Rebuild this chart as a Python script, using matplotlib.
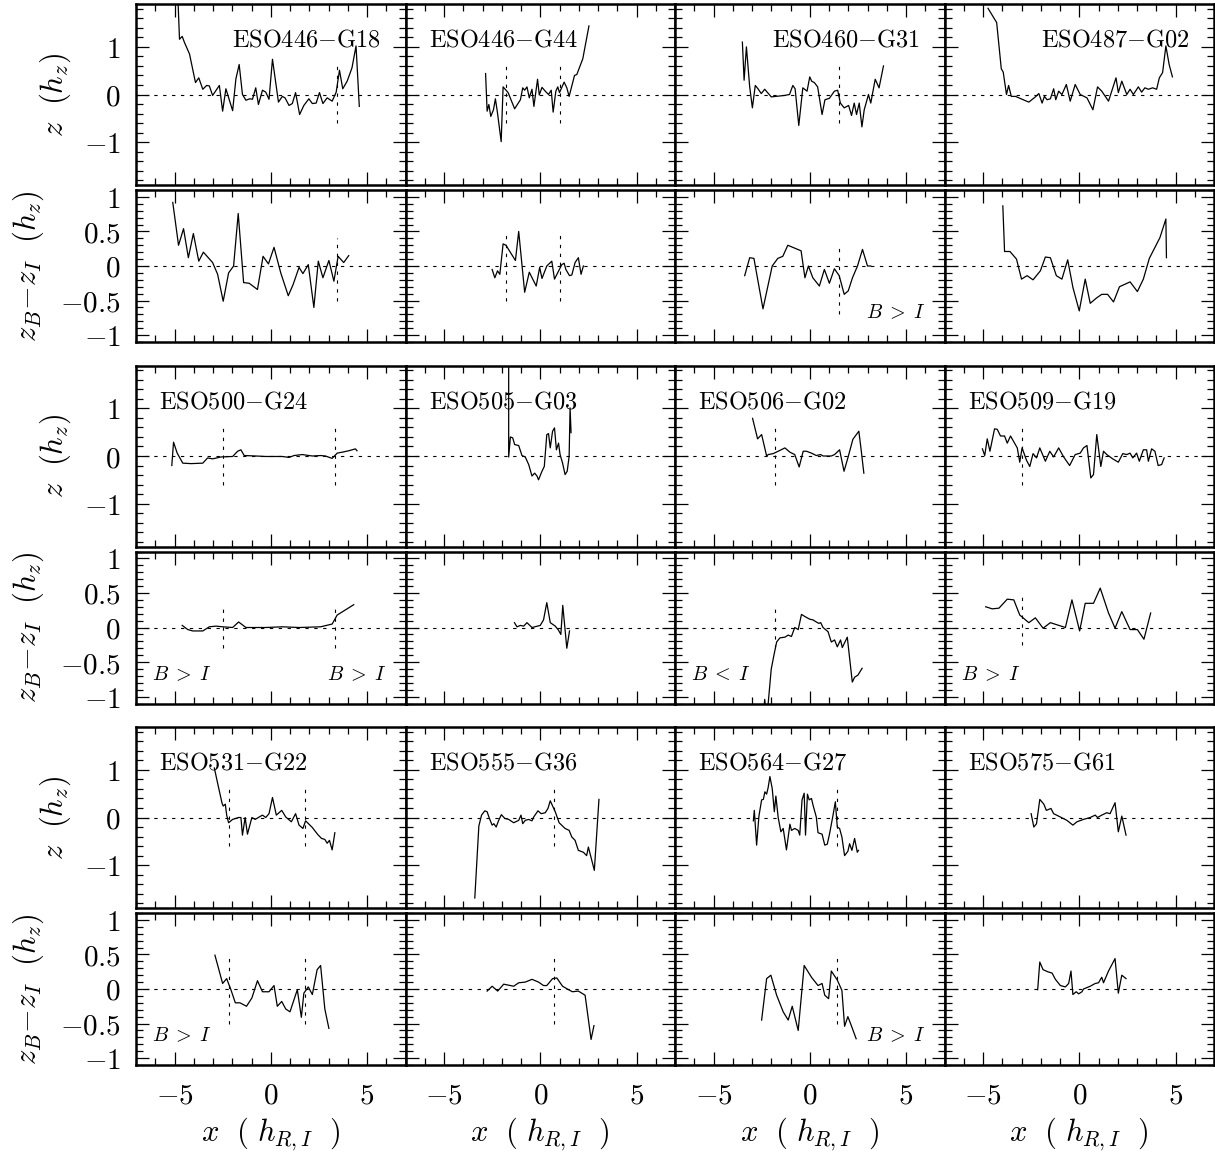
#!/usr/bin/env python3
"""Vertical profiles z(x) and colour offsets z_B - z_I for 12 edge-on galaxies."""

import matplotlib
matplotlib.use('Agg')
import matplotlib.pyplot as plt
from matplotlib.ticker import MultipleLocator

plt.rcParams['mathtext.fontset'] = 'cm'
plt.rcParams['font.family'] = 'serif'
plt.rcParams['font.serif'] = ['DejaVu Serif']

# ── DATA ──────────────────────────────────────────────────────────────────
NAMES = ['ESO446-G18', 'ESO446-G44', 'ESO460-G31', 'ESO487-G02',
         'ESO500-G24', 'ESO505-G03', 'ESO506-G02', 'ESO509-G19',
         'ESO531-G22', 'ESO555-G36', 'ESO564-G27', 'ESO575-G61']
NAME_SIDE = ['right', 'left', 'right', 'right'] + ['left'] * 8

XTICKS = [-5, 0, 5]
XTICK_LABELS = ['$-5$', '$0$', '$5$']
ZTICKS = [-1, 0, 1]
ZTICK_LABELS = ['$-1$', '$0$', '$1$']
DTICKS = [-1, -0.5, 0, 0.5, 1]
DTICK_LABELS = ['$-1$', '$-0.5$', '$0$', '$0.5$', '$1$']

# ESO446-G18
G18_X = [-4.85, -4.74, -4.6, -4.48, -4.22, -3.91, -3.74, -3.53, -3.33, -3.19, -3.02, -2.67, -2.5,
         -2.33, -1.98, -1.81, -1.64, -1.47, -1.29, -1.09, -0.95, -0.78, -0.64, -0.43, -0.26, -0.09,
         0.09, 0.4, 0.6, 0.74, 0.95, 1.12, 1.29, 1.5, 1.72, 1.98, 2.16, 2.36, 2.53, 2.71, 2.93, 3.19,
         3.4, 3.57, 3.74, 3.97, 4.22, 4.43, 4.6]
G18_Z = [2.3, 1.16, 1.22, 1.09, 0.85, 0.25, 0.35, 0.11, 0.19, 0.18, -0.02, 0.19, -0.35, 0.12,
         -0.34, 0.33, 0.63, 0.0, -0.12, -0.09, -0.1, 0.14, -0.21, 0.09, 0.05, -0.1, 0.74, -0.16,
         -0.04, -0.07, -0.23, -0.19, 0.04, -0.42, -0.23, -0.09, -0.19, -0.18, 0.04, -0.19, -0.07,
         -0.14, 0.05, 0.51, 0.12, 0.28, 0.56, 1.02, -0.25]
G18_DX = [-5.09, -4.79, -4.53, -4.28, -4.02, -3.74, -3.5, -3.02, -2.76, -2.47, -2.19, -1.93, -1.69,
          -1.41, -1.12, -0.69, -0.4, -0.12, 0.17, 0.52, 0.91, 1.16, 1.47, 1.67, 1.95, 2.24, 2.47,
          2.71, 3.02, 3.28, 3.5, 3.79, 4.05]
G18_DZ = [0.92, 0.30, 0.54, 0.12, 0.47, 0.07, 0.2, 0.05, -0.12, -0.51, -0.1, 0.0, 0.76, -0.24,
          -0.25, -0.34, 0.14, 0.03, 0.27, -0.1, -0.43, -0.27, -0.02, -0.11, 0.02, -0.6, 0.07,
          -0.17, 0.08, -0.22, 0.14, 0.05, 0.15]

# ESO446-G44
G44_X = [-2.84, -2.76, -2.67, -2.57, -2.43, -2.33, -2.22, -2.03, -1.93, -1.67, -1.33, -1.03, -0.91,
         -0.81, -0.69, -0.57, -0.43, -0.33, -0.14, -0.05, 0.09, 0.26, 0.43, 0.57, 0.67, 0.81, 0.91,
         1.0, 1.24, 1.38, 1.5, 1.64, 1.78, 1.9, 2.21, 2.53]
G44_Z = [0.44, -0.35, -0.21, -0.46, -0.32, -0.09, -0.39, -0.99, 0.16, 0.04, -0.3, -0.11, 0.14,
         0.09, 0.16, -0.07, 0.11, -0.25, 0.32, -0.01, 0.15, 0.07, 0.0, 0.09, -0.37, 0.07, 0.16,
         0.04, 0.26, 0.14, -0.04, 0.18, 0.4, 0.42, 0.75, 1.44]
G44_DX = [-2.5, -2.36, -2.22, -2.1, -1.93, -1.78, -1.29, -1.12, -0.81, -0.57, -0.21, -0.03, 0.09,
          0.34, 0.6, 0.74, 1.12, 1.24, 1.33, 1.52, 1.64, 1.81, 1.98, 2.12, 2.24]
G44_DZ = [-0.05, -0.17, -0.07, -0.12, 0.32, 0.3, 0.08, 0.5, -0.38, -0.09, -0.29, -0.02, -0.18,
          0.0, 0.07, -0.19, 0.02, 0.04, -0.05, -0.14, -0.13, 0.05, 0.12, -0.12, 0.0]

# ESO460-G31
G31_X = [-3.5, -3.41, -3.29, -3.12, -2.98, -2.83, -2.69, -2.52, -2.34, -2.0, -1.31, -1.05, -0.88,
         -0.76, -0.57, -0.36, -0.14, 0.0, 0.1, 0.24, 0.41, 0.64, 0.79, 1.02, 1.28, 1.45, 1.59,
         1.79, 2.02, 2.17, 2.31, 2.43, 2.57, 2.71, 2.83, 3.05, 3.17, 3.4, 3.6, 3.83]
G31_Z = [1.1, 0.3, 1.0, 0.16, -0.28, 0.19, 0.12, 0.02, 0.11, -0.05, -0.02, 0.0, 0.19, 0.12, -0.65,
         0.14, 0.07, 0.37, 0.28, 0.25, 0.16, -0.42, -0.11, -0.08, 0.07, 0.09, -0.18, -0.28, -0.23,
         -0.44, -0.18, -0.42, -0.18, -0.68, -0.32, 0.0, -0.18, 0.32, 0.14, 0.6]
G31_DX = [-3.38, -3.12, -2.9, -2.43, -1.95, -1.66, -1.4, -1.14, -0.45, -0.25, -0.07, 0.16, 0.5,
          0.76, 1.02, 1.28, 1.53, 1.79, 2.0, 2.22, 2.48, 2.74, 3.0, 3.17]
G31_DZ = [-0.14, 0.12, 0.11, -0.62, 0.0, 0.11, 0.14, 0.3, 0.22, -0.17, 0.0, -0.17, -0.29, -0.05,
          -0.25, -0.04, -0.14, -0.41, -0.36, -0.17, 0.0, 0.24, 0.0, 0.0]

# ESO487-G02
G02A_X = [-4.74, -4.29, -4.05, -3.95, -3.78, -3.67, -3.53, -3.31, -3.14, -2.62, -2.28, -2.1, -1.93,
          -1.81, -1.67, -1.5, -1.33, -1.22, -1.07, -0.9, -0.67, -0.47, -0.21, 0.05, 0.4, 0.71,
          0.95, 1.17, 1.52, 1.91, 2.03, 2.21, 2.47, 2.64, 2.81, 3.07, 3.24, 3.41, 3.59, 3.81, 4.02,
          4.16, 4.33, 4.5, 4.67, 4.84]
G02A_Z = [1.81, 1.51, 0.54, 0.47, 0.0, 0.19, -0.04, -0.04, -0.07, -0.16, -0.05, 0.02, -0.18,
          -0.04, -0.11, -0.09, 0.12, -0.11, 0.07, 0.0, 0.21, -0.14, 0.21, 0.0, -0.07, -0.32, 0.16,
          0.07, -0.14, 0.35, 0.04, 0.28, 0.0, 0.11, 0.0, 0.16, 0.05, 0.14, 0.11, 0.14, 0.11, 0.35,
          0.46, 1.02, 0.63, 0.37]
G02A_DX = [-3.97, -3.88, -3.6, -3.26, -3.0, -2.71, -2.4, -2.02, -1.76, -1.5, -1.19, -0.9, -0.6,
           -0.33, 0.0, 0.31, 0.57, 0.91, 1.17, 1.47, 1.78, 2.09, 2.64, 3.02, 3.33, 3.64, 4.19,
           4.5, 4.53]
G02A_DZ = [0.87, 0.21, 0.21, 0.1, -0.19, -0.14, -0.2, -0.07, 0.13, 0.12, -0.14, -0.19, 0.09,
           -0.31, -0.65, -0.19, -0.54, -0.46, -0.41, -0.41, -0.52, -0.3, -0.23, -0.37, -0.19,
           0.11, 0.41, 0.68, 0.12]

# ESO500-G24
G24_X = [-5.14, -5.05, -4.86, -4.57, -4.14, -3.53, -3.28, -3.02, -2.59, -1.98, -1.72, -1.55, -1.38,
         -0.78, -0.26, 0.6, 0.95, 1.21, 1.64, 2.16, 2.59, 2.84, 3.19, 3.45, 3.71, 4.05, 4.4, 4.48]
G24_Z = [-0.2, 0.29, 0.06, -0.15, -0.16, -0.15, -0.04, -0.06, -0.02, -0.01, 0.1, 0.13, 0.01, 0.0,
         -0.01, -0.01, -0.03, 0.01, 0.03, 0.0, 0.01, 0.0, -0.05, 0.06, 0.08, 0.11, 0.15, 0.11]
G24_DX = [-4.6, -4.31, -4.05, -3.53, -3.19, -2.84, -2.5, -1.98, -1.67, -1.29, -0.26, 0.6, 1.47,
          2.59, 3.19, 3.45, 4.31]
G24_DZ = [0.03, -0.03, -0.05, -0.05, 0.01, 0.02, 0.01, 0.0, 0.08, 0.0, 0.0, 0.01, 0.0, 0.01, 0.05,
          0.18, 0.33]

# ESO505-G03
G03_X = [-1.64, -1.64, -1.55, -1.43, -1.33, -1.12, -0.95, -0.78, -0.6, -0.43, -0.29, -0.17, -0.09,
         0.09, 0.21, 0.34, 0.43, 0.52, 0.64, 0.74, 0.84, 0.95, 1.03, 1.16, 1.29, 1.4, 1.5, 1.55, 1.6]
G03_Z = [2.5, -0.02, 0.4, 0.38, 0.24, 0.22, 0.01, -0.02, -0.18, -0.42, -0.36, -0.42, -0.5, -0.32,
         -0.22, 0.45, 0.47, 0.17, 0.52, 0.59, 0.13, 0.27, 0.03, -0.15, -0.39, -0.32, -0.01, 1.01,
         0.49]
G03_DX = [-1.34, -1.21, -1.03, -0.86, -0.69, -0.43, 0.0, 0.17, 0.34, 0.52, 0.78, 0.95, 1.07, 1.17,
          1.38, 1.52]
G03_DZ = [0.07, 0.01, 0.03, 0.02, 0.07, 0.0, 0.03, 0.11, 0.36, 0.07, 0.02, -0.04, -0.1, 0.32,
          -0.3, -0.05]

# ESO506-G02
G02B_X = [-2.97, -2.71, -2.5, -2.24, -2.16, -1.9, -1.64, -1.29, -1.03, -0.78, -0.55, -0.34, -0.17,
          0.09, 0.34, 0.57, 0.69, 0.95, 1.12, 1.29, 1.55, 1.78, 1.98, 2.24, 2.55, 2.67, 2.81]
G02B_Z = [0.79, 0.36, 0.45, 0.0, 0.03, 0.05, 0.1, 0.17, 0.08, 0.03, -0.23, 0.1, 0.1, 0.06, 0.01,
          0.03, 0.0, 0.0, 0.0, 0.03, 0.13, -0.32, -0.04, 0.35, 0.52, 0.13, -0.36]
G02B_DX = [-2.42, -2.34, -2.26, -2.16, -2.0, -1.86, -1.72, -1.55, -1.29, -1.12, -0.95, -0.78, -0.6,
           -0.43, -0.26, 0.0, 0.17, 0.34, 0.47, 0.57, 0.69, 0.95, 1.12, 1.29, 1.43, 1.6, 1.69,
           1.95, 2.21, 2.33, 2.5, 2.72]
G02B_DZ = [-1.3, -1.04, -1.25, -1.1, -0.6, -0.4, -0.21, -0.15, -0.14, -0.11, -0.13, 0.0, -0.03,
           0.19, 0.16, 0.12, 0.11, 0.08, 0.06, 0.07, 0.0, -0.06, -0.21, -0.18, -0.28, -0.18,
           -0.29, -0.14, -0.79, -0.72, -0.69, -0.59]

# ESO509-G19
G19_X = [-5.03, -4.91, -4.78, -4.64, -4.4, -4.26, -4.09, -3.88, -3.74, -3.57, -3.22, -3.09, -2.97,
         -2.74, -2.57, -2.4, -2.22, -2.05, -1.76, -1.53, -1.33, -1.07, -0.81, -0.5, -0.21, 0.05,
         0.22, 0.4, 0.6, 0.74, 0.91, 1.12, 1.26, 1.43, 1.74, 2.03, 2.26, 2.47, 2.64, 2.78, 2.98,
         3.12, 3.33, 3.5, 3.59, 3.76, 3.93, 4.1, 4.28, 4.41]
G19_Z = [0.15, 0.01, 0.36, 0.1, 0.57, 0.56, 0.42, 0.42, 0.27, 0.42, 0.17, -0.13, 0.17, -0.09,
         -0.22, 0.05, -0.04, 0.17, -0.11, 0.1, -0.02, 0.17, -0.02, -0.2, 0.03, 0.06, 0.17, 0.22,
         -0.46, -0.39, 0.45, -0.22, 0.1, 0.03, -0.06, -0.13, 0.05, 0.03, 0.06, -0.04, 0.06, -0.11,
         0.13, 0.13, -0.11, 0.15, 0.1, -0.2, -0.18, -0.04]
G19_DX = [-4.86, -4.52, -4.17, -3.74, -3.4, -3.09, -2.62, -2.28, -1.88, -1.5, -0.72, -0.38, 0.02,
          0.31, 0.74, 1.09, 1.52, 1.86, 2.21, 2.64, 3.02, 3.36, 3.71]
G19_DZ = [0.3, 0.27, 0.28, 0.41, 0.4, 0.18, 0.07, 0.14, -0.01, 0.07, 0.0, 0.4, -0.05, 0.35, 0.35,
          0.57, 0.21, -0.01, 0.23, -0.03, -0.03, -0.17, 0.21]

# ESO531-G22
G22_X = [-2.93, -2.76, -2.53, -2.47, -2.36, -2.29, -2.19, -1.98, -1.67, -1.55, -1.47, -1.33, -1.21,
         -0.98, -0.81, -0.6, -0.43, -0.26, -0.09, 0.09, 0.29, 0.57, 0.78, 1.07, 1.29, 1.47, 1.67,
         1.81, 2.16, 2.33, 2.47, 2.64, 2.81, 2.93, 3.05, 3.19, 3.33]
G22_Z = [1.04, 0.72, 0.3, 0.24, 0.28, 0.05, -0.11, -0.04, 0.0, 0.0, -0.37, 0.0, -0.35, 0.0, -0.04,
         0.01, 0.05, 0.0, 0.08, 0.42, 0.05, 0.15, 0.01, -0.09, 0.08, -0.16, -0.23, -0.07, -0.21,
         -0.3, -0.37, -0.44, -0.46, -0.54, -0.48, -0.68, -0.32]
G22_DX = [-2.9, -2.5, -2.29, -2.07, -1.84, -1.6, -1.26, -0.98, -0.69, -0.43, -0.09, 0.17, 0.34,
          0.57, 0.78, 1.0, 1.38, 1.59, 1.72, 1.95, 2.16, 2.41, 2.59, 2.81, 3.02]
G22_DZ = [0.49, 0.08, 0.15, -0.01, -0.2, -0.2, -0.25, -0.13, 0.12, -0.04, -0.04, 0.05, -0.25,
          -0.18, -0.29, -0.33, -0.01, -0.41, -0.06, 0.03, -0.08, 0.28, 0.34, -0.29, -0.57]

# ESO555-G36
G36_X = [-3.4, -3.19, -3.05, -2.88, -2.76, -2.64, -2.5, -2.41, -2.29, -2.16, -2.02, -1.84, -1.64,
         -1.38, -1.12, -1.0, -0.91, -0.78, -0.6, -0.43, -0.34, -0.12, 0.05, 0.26, 0.4, 0.52, 0.78,
         0.98, 1.29, 1.5, 1.64, 1.81, 1.98, 2.24, 2.41, 2.5, 2.81, 3.05]
G36_Z = [-1.69, -0.18, 0.05, 0.14, 0.12, -0.02, -0.16, -0.13, -0.2, -0.06, 0.06, -0.02, -0.04,
         -0.11, -0.06, 0.05, -0.13, -0.06, -0.04, -0.07, 0.01, 0.14, 0.08, 0.1, 0.19, 0.35, 0.12,
         -0.11, -0.23, -0.27, -0.41, -0.48, -0.69, -0.73, -0.8, -0.62, -1.11, 0.38]
G36_DX = [-2.76, -2.5, -2.21, -1.9, -1.38, -1.12, -0.78, -0.43, -0.09, 0.17, 0.34, 0.64, 0.86, 1.16,
          1.47, 1.67, 1.98, 2.33, 2.64, 2.79]
G36_DZ = [-0.03, 0.04, -0.03, 0.07, 0.04, 0.09, 0.1, 0.14, 0.1, 0.05, 0.05, 0.15, 0.16, 0.04,
          -0.01, -0.04, -0.03, -0.09, -0.73, -0.53]

# ESO564-G27
G27_X = [-2.93, -2.88, -2.76, -2.64, -2.5, -2.41, -2.33, -2.24, -2.16, -2.07, -1.95, -1.84, -1.76,
         -1.64, -1.5, -1.38, -1.21, -1.03, -0.95, -0.78, -0.6, -0.52, -0.4, -0.29, -0.22, -0.12,
         -0.03, 0.09, 0.17, 0.34, 0.43, 0.64, 0.78, 0.91, 1.03, 1.21, 1.33, 1.43, 1.55, 1.67, 1.81,
         1.98, 2.07, 2.19, 2.33, 2.47, 2.53]
G27_Z = [-0.07, 0.15, -0.58, 0.03, 0.37, 0.38, 0.54, 0.49, 0.63, 0.86, 0.61, 0.12, 0.45, 0.0, -0.3,
         -0.23, -0.68, -0.14, -0.27, -0.23, -0.27, -0.37, 0.37, 0.51, -0.37, 0.49, 0.37, 0.4, 0.26,
         0.01, -0.32, -0.35, -0.58, -0.56, -0.34, 0.05, 0.33, -0.2, -0.23, -0.41, -0.8, -0.71,
         -0.55, -0.69, -0.44, -0.73, -0.69]
G27_DX = [-2.5, -2.24, -2.02, -1.72, -1.38, -1.12, -0.91, -0.6, -0.29, 0.09, 0.43, 0.64, 0.78,
          0.98, 1.12, 1.43, 1.67, 1.81, 1.98, 2.16, 2.41]
G27_DZ = [-0.45, 0.15, 0.2, -0.09, -0.33, -0.45, -0.25, -0.6, 0.34, 0.17, 0.05, 0.08, -0.09,
          -0.14, 0.26, 0.13, -0.02, -0.54, -0.4, -0.53, -0.72]

# ESO575-G61
G61_X = [-2.5, -2.36, -2.22, -2.05, -1.84, -1.71, -1.47, -1.33, -0.98, -0.64, -0.33, -0.12, 0.22,
         0.57, 0.83, 0.95, 1.17, 1.43, 1.6, 1.86, 2.03, 2.21, 2.43]
G61_Z = [0.08, -0.2, -0.13, 0.38, 0.28, 0.15, 0.19, 0.08, 0.01, -0.06, -0.16, -0.09, -0.04, 0.0,
         0.05, 0.0, 0.05, 0.1, 0.08, 0.31, -0.3, 0.03, -0.37]
G61_DX = [-2.16, -2.05, -1.88, -1.64, -1.41, -1.24, -0.98, -0.72, -0.55, -0.43, -0.33, -0.16,
          -0.03, 0.14, 0.22, 0.57, 0.83, 1.0, 1.17, 1.26, 1.52, 1.86, 2.03, 2.21, 2.43]
G61_DZ = [-0.01, 0.39, 0.28, 0.25, 0.23, 0.14, 0.05, 0.03, 0.08, 0.26, -0.08, -0.04, -0.07,
          -0.04, 0.0, 0.04, 0.08, 0.09, 0.17, 0.09, 0.26, 0.44, -0.06, 0.2, 0.15]

Z_X = [G18_X, G44_X, G31_X, G02A_X, G24_X, G03_X, G02B_X, G19_X, G22_X, G36_X, G27_X, G61_X]
Z_Y = [G18_Z, G44_Z, G31_Z, G02A_Z, G24_Z, G03_Z, G02B_Z, G19_Z, G22_Z, G36_Z, G27_Z, G61_Z]
D_X = [G18_DX, G44_DX, G31_DX, G02A_DX, G24_DX, G03_DX, G02B_DX, G19_DX, G22_DX, G36_DX,
       G27_DX, G61_DX]
D_Y = [G18_DZ, G44_DZ, G31_DZ, G02A_DZ, G24_DZ, G03_DZ, G02B_DZ, G19_DZ, G22_DZ, G36_DZ,
       G27_DZ, G61_DZ]

# vertical marker positions (x) and their extents in each panel
VLINES = [[3.45], [-1.79, 1.05], [1.5], [], [-2.47, 3.36], [], [-1.81], [-2.95],
          [-2.19, 1.78], [0.71], [1.43], []]
VSPAN_Z = (-0.6, 0.7)
VSPAN_D = [(-0.5, 0.4), (-0.5, 0.5), (-0.7, 0.3), None, (-0.3, 0.3), None, (-0.3, 0.3),
           (-0.25, 0.5), (-0.5, 0.5), (-0.5, 0.5), (-0.5, 0.5), None]

# colour-excess notes: (panel index, side, text)
NOTES = [(2, 'right', r'$B\;>\;I$'), (4, 'left', r'$B\;>\;I$'), (4, 'right', r'$B\;>\;I$'),
         (6, 'left', r'$B\;<\;I$'), (7, 'left', r'$B\;>\;I$'), (8, 'left', r'$B\;>\;I$'),
         (10, 'right', r'$B\;>\;I$')]

# ── LAYOUT ────────────────────────────────────────────────────────────────
W, H = 1215, 1154
COL_LEFT = [136, 405.5, 675, 944.5]
COL_W = 269.5
GROUP_TOP = [4, 365.5, 727]
Z_H, D_OFF, D_H = 181, 186, 152

DOT = (0, (3, 5))


def rect(left, top, w, h):
    return [left / W, 1 - (top + h) / H, w / W, h / H]


def style_axes(ax, yticks, ylabels, minor_y, show_x, show_y):
    ax.set_xlim(-7, 7)
    ax.set_xticks(XTICKS)
    ax.xaxis.set_minor_locator(MultipleLocator(1))
    ax.set_yticks(yticks)
    ax.yaxis.set_minor_locator(MultipleLocator(minor_y))
    ax.tick_params(which='both', direction='in', top=True, right=True, width=0.9,
                   labelsize=21, labelbottom=show_x, labelleft=show_y)
    ax.tick_params(which='major', length=9.5)
    ax.tick_params(which='minor', length=5)
    ax.tick_params(axis='x', pad=12)
    ax.tick_params(axis='y', pad=11)
    if show_x:
        ax.set_xticklabels(XTICK_LABELS)
    if show_y:
        ax.set_yticklabels(ylabels)
    for sp in ax.spines.values():
        sp.set_linewidth(1.8)


fig = plt.figure(figsize=(W / 100, H / 100), dpi=100)

for i, name in enumerate(NAMES):
    row, col = divmod(i, 4)
    top = GROUP_TOP[row]
    axz = fig.add_axes(rect(COL_LEFT[col], top, COL_W, Z_H))
    axd = fig.add_axes(rect(COL_LEFT[col], top + D_OFF, COL_W, D_H))

    # profile panel
    axz.axhline(0, color='k', lw=0.8, ls=DOT, zorder=1)
    for v in VLINES[i]:
        axz.plot([v, v], VSPAN_Z, color='k', lw=0.8, ls=DOT, zorder=1)
    axz.plot(Z_X[i], Z_Y[i], color='k', lw=0.9, zorder=2)
    axz.set_ylim(-1.9, 1.9)
    style_axes(axz, ZTICKS, ZTICK_LABELS, 0.2, False, col == 0)
    label = r'$\mathrm{' + name.replace('-', '{-}') + '}$'
    if NAME_SIDE[i] == 'right':
        axz.text(5.7, 1.0, label, ha='right', va='baseline', fontsize=17.5)
    else:
        axz.text(-5.8, 1.0, label, ha='left', va='baseline', fontsize=17.5)

    # colour-difference panel
    axd.axhline(0, color='k', lw=0.8, ls=DOT, zorder=1)
    if VSPAN_D[i] is not None:
        for v in VLINES[i]:
            axd.plot([v, v], VSPAN_D[i], color='k', lw=0.8, ls=DOT, zorder=1)
    axd.plot(D_X[i], D_Y[i], color='k', lw=0.9, zorder=2)
    axd.set_ylim(-1.1, 1.1)
    style_axes(axd, DTICKS, DTICK_LABELS, 0.1, row == 2, col == 0)

    for idx, side, txt in NOTES:
        if idx == i:
            if side == 'left':
                axd.text(-6.15, -0.68, txt, ha='left', va='center', fontsize=14.5)
            else:
                axd.text(6.05, -0.68, txt, ha='right', va='center', fontsize=14.5)

    if col == 0:
        axz.text(-0.30, 0.5, r'$z\ \ (h_z)$', transform=axz.transAxes, rotation=90,
                 ha='center', va='center', fontsize=22)
        axd.text(-0.40, 0.5, r'$z_B{-}z_I\ \ (h_z)$', transform=axd.transAxes, rotation=90,
                 ha='center', va='center', fontsize=22)
    if row == 2:
        fig.text((COL_LEFT[col] + COL_W / 2) / W, 1 - 1134 / H, r'$x\ \ (\ h_{R,I}\ \ )$',
                 ha='center', va='center', fontsize=22)

fig.savefig('out.png', dpi=100)
